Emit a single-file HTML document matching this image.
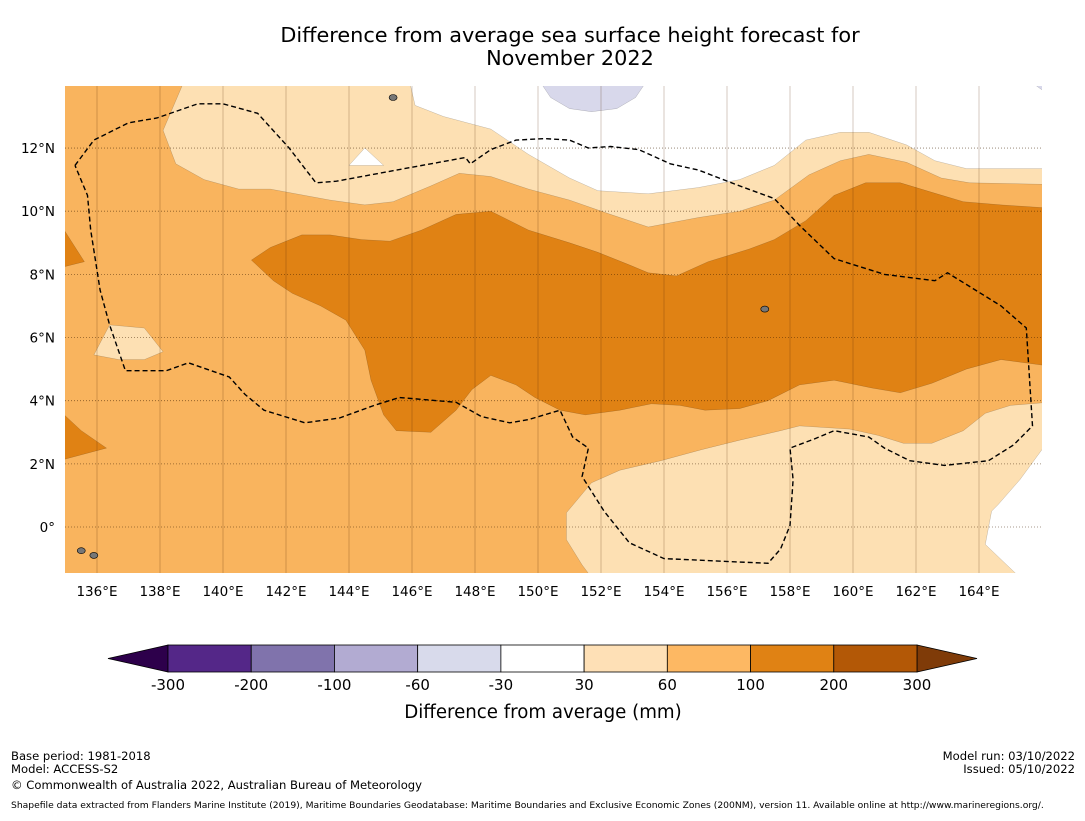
<!DOCTYPE html>
<html><head><meta charset="utf-8"><style>
body{margin:0;background:#fff;font-family:"Liberation Sans","DejaVu Sans",sans-serif;}
svg text{font-family:"DejaVu Sans","Liberation Sans",sans-serif;}
</style></head><body>
<svg id="chart" width="1085" height="816" viewBox="0 0 1085 816" xmlns="http://www.w3.org/2000/svg">
<text x="570" y="42" font-size="20.8" text-anchor="middle">Difference from average sea surface height forecast for</text>
<text x="570" y="65" font-size="20.8" text-anchor="middle">November 2022</text>
<defs><clipPath id="mapclip"><rect x="65" y="86" width="977" height="487"/></clipPath></defs>
<g id="map" clip-path="url(#mapclip)"></g>
<g id="axes"></g>
<g id="cbar"></g>
<text x="543" y="718" font-size="18.2" text-anchor="middle">Difference from average (mm)</text>
<text x="11" y="760" font-size="11.6">Base period: 1981-2018</text>
<text x="11" y="773" font-size="11.6">Model: ACCESS-S2</text>
<text x="11" y="789" font-size="11.6">© Commonwealth of Australia 2022, Australian Bureau of Meteorology</text>
<text x="1075" y="760" font-size="11.6" text-anchor="end">Model run: 03/10/2022</text>
<text x="1075" y="773" font-size="11.6" text-anchor="end">Issued: 05/10/2022</text>
<text x="11" y="808" font-size="9.2">Shapefile data extracted from Flanders Marine Institute (2019), Maritime Boundaries Geodatabase: Maritime Boundaries and Exclusive Economic Zones (200NM), version 11. Available online at http://www.marineregions.org/.</text>
</svg>
<script>
const lonTicks=[136,138,140,142,144,146,148,150,152,154,156,158,160,162,164];
const latTicks=[12,10,8,6,4,2,0];
const latLabels=["12°N","10°N","8°N","6°N","4°N","2°N","0°"];
const cbarLabels=["-300","-200","-100","-60","-30","30","60","100","200","300"];
const cbarColors=["#542788","#8073ac","#b2abd2","#d8daeb","#ffffff","#fee0b6","#fdb863","#e08214","#b35806"];
const lightTop=[[138.8,14.2],[138.1,12.56],[138.5,11.5],[139.4,11.0],[140.5,10.7],[141.5,10.7],[143.4,10.35],[144.5,10.2],[145.4,10.3],[146.6,10.8],[147.5,11.2],[148.5,11.1],[149.7,10.7],[151.0,10.35],[152.3,9.9],[153.5,9.5],[155.1,9.8],[156.4,10.0],[157.5,10.35],[158.6,11.15],[159.6,11.6],[160.5,11.8],[161.7,11.55],[162.8,11.05],[163.7,10.9],[166.2,10.85],[166.2,14.2]];
const whiteTop=[[145.9,14.2],[146.1,13.35],[147.0,13.0],[148.5,12.6],[149.7,11.8],[151,11.05],[151.9,10.65],[153.5,10.55],[155.1,10.75],[156.4,11],[157.5,11.45],[158.5,12.25],[159.6,12.5],[160.5,12.5],[161.7,12.1],[162.6,11.6],[163.6,11.35],[166.2,11.35],[166.2,14.2]];
const whiteTri=[[144.0,11.45],[145.1,11.45],[144.5,12.0]];
const lavender=[[150.0,14.2],[150.4,13.6],[151.0,13.25],[151.7,13.15],[152.5,13.25],[153.1,13.6],[153.5,14.2]];
const lavender2=[[165.5,14.2],[166.2,13.7],[166.2,14.2]];
const darkMain=[[140.9,8.45],[141.5,8.85],[142.5,9.25],[143.4,9.25],[144.4,9.1],[145.3,9.05],[146.3,9.4],[147.4,9.9],[148.5,10.0],[149.7,9.4],[151,9.0],[151.9,8.7],[152.9,8.3],[153.5,8.05],[154.4,7.95],[155.4,8.4],[156.7,8.8],[157.5,9.1],[158.5,9.7],[159.4,10.5],[160.4,10.9],[161.5,10.9],[162.5,10.6],[163.5,10.3],[164.7,10.2],[166.2,10.1],[166.2,5.1],[164.7,5.3],[163.6,5.0],[162.5,4.55],[161.5,4.25],[160.6,4.4],[159.4,4.65],[158.3,4.5],[157.3,4.0],[156.4,3.75],[155.3,3.7],[154.5,3.85],[153.6,3.9],[152.6,3.7],[151.5,3.55],[150.7,3.7],[149.9,4.1],[149.3,4.5],[148.5,4.8],[147.9,4.35],[147.4,3.7],[146.6,3.0],[145.5,3.05],[145.1,3.55],[144.7,4.65],[144.5,5.6],[143.9,6.55],[143.1,7.0],[142.2,7.4],[141.6,7.8]];
const darkLeft1=[[134.8,9.65],[135.6,8.4],[134.8,8.2]];
const darkLeft2=[[134.8,3.7],[135.5,3.05],[136.3,2.5],[134.8,2.1]];
const lightLeft=[[135.9,5.45],[136.4,6.4],[137.5,6.3],[138.1,5.55],[137.5,5.3],[136.7,5.3]];
const lightBottom=[[150.9,0.45],[151.7,1.4],[152.6,1.8],[153.9,2.1],[155.2,2.45],[156.4,2.75],[157.7,3.05],[158.3,3.2],[159.9,3.1],[160.8,2.9],[161.6,2.65],[162.5,2.65],[163.5,3.05],[164.2,3.6],[165,3.85],[166.2,3.95],[166.2,-1.6],[151.7,-1.6],[151.4,-1.2],[150.9,-0.4]];
const whiteBottom=[[166.2,2.6],[166,2.45],[165.3,1.5],[164.6,0.7],[164.4,0.5],[164.2,-0.55],[165.3,-1.6],[166.2,-1.6]];
const eez=[[135.3,11.45],[135.9,12.25],[137.0,12.8],[137.9,12.95],[139.2,13.4],[140,13.4],[141.1,13.1],[142.1,12.0],[142.95,10.9],[143.6,10.95],[145.5,11.3],[147.7,11.7],[147.85,11.5],[148.5,11.95],[149.3,12.25],[150.2,12.3],[151,12.25],[151.6,12.0],[152.3,12.05],[153.2,11.95],[154.2,11.5],[155.1,11.3],[156.4,10.8],[157.5,10.4],[158.3,9.55],[159.4,8.5],[161.0,8.0],[162.6,7.8],[163.0,8.05],[164.7,7.0],[165.5,6.3],[165.7,3.2],[165.1,2.6],[164.3,2.1],[162.9,1.95],[161.8,2.1],[161.0,2.5],[160.5,2.85],[159.4,3.05],[158.8,2.8],[158.0,2.5],[158.1,1.5],[158,0.05],[157.7,-0.7],[157.3,-1.15],[154.0,-1.0],[152.9,-0.5],[152.1,0.5],[151.4,1.6],[151.6,2.5],[151.1,2.85],[150.7,3.7],[149.7,3.4],[149.1,3.3],[148.2,3.5],[147.4,3.95],[145.6,4.1],[144.8,3.85],[143.7,3.45],[142.6,3.3],[141.3,3.7],[140.7,4.2],[140.2,4.75],[138.9,5.2],[138.2,4.95],[136.9,4.95],[136.4,6.4],[136.1,7.5],[135.8,9.4],[135.7,10.5],[135.3,11.45]];
const islands=[[135.5,-0.75],[135.9,-0.9],[145.4,13.6],[157.2,6.9]];

const NS='http://www.w3.org/2000/svg';
const X=lon=>65.5+(lon-135)*31.5;
const Y=lat=>527-lat*31.58;
function mk(tag,attrs,parent){const e=document.createElementNS(NS,tag);for(const k in attrs)e.setAttribute(k,attrs[k]);parent.appendChild(e);return e;}
const map=document.getElementById('map'),axes=document.getElementById('axes'),cb=document.getElementById('cbar');
const pts=a=>a.map(p=>X(p[0]).toFixed(1)+','+Y(p[1]).toFixed(1)).join(' ');
let bg=mk('rect',{x:65,y:86,width:977,height:487,fill:'#f9b45e'},map);


const layers=[[lightTop,'#fde0b3','contour-30-60-north'],[whiteTop,'#ffffff','contour-white-north'],[whiteTri,'#ffffff','contour-white-small'],[lavender,'#d8d8eb','contour-lavender-north'],[lavender2,'#d8d8eb','contour-lavender-ne'],[darkMain,'#e08214','contour-100-200-main'],[darkLeft1,'#e08214','contour-100-200-west1'],[darkLeft2,'#e08214','contour-100-200-west2'],[lightLeft,'#fde0b3','contour-30-60-west'],[lightBottom,'#fde0b3','contour-30-60-south'],[whiteBottom,'#ffffff','contour-white-south']];
layers.forEach(l=>{const p=mk('polygon',{points:pts(l[0]),fill:l[1],stroke:'rgba(0,0,0,0.3)','stroke-width':0.4},map);

});
lonTicks.forEach(t=>{const l=mk('line',{x1:X(t),x2:X(t),y1:86,y2:573,stroke:'rgba(80,40,0,0.35)','stroke-width':0.7},map);


const tx=mk('text',{x:X(t),y:596,'font-size':13.5,'text-anchor':'middle'},axes);tx.textContent=t+'°E';

});
latTicks.forEach((t,i)=>{const l=mk('line',{x1:65,x2:1042,y1:Y(t),y2:Y(t),stroke:'rgba(60,30,0,0.6)','stroke-width':0.8,'stroke-dasharray':'1,2'},map);


const tx=mk('text',{x:55,y:Y(t)+5,'font-size':13.5,'text-anchor':'end'},axes);tx.textContent=latLabels[i];

});
const e=mk('polyline',{points:pts(eez),fill:'none',stroke:'#000','stroke-width':1.4,'stroke-dasharray':'5,3'},map);


islands.forEach(p=>{const c=mk('ellipse',{cx:X(p[0]),cy:Y(p[1]),rx:4,ry:3,fill:'#777',stroke:'#000','stroke-width':0.6},map);

});
const cx0=168,cx1=917,cw=(cx1-cx0)/cbarColors.length,cy=645,ch=27;
let tl=mk('polygon',{points:`${cx0},${cy} ${cx0},${cy+ch} 108,${cy+ch/2}`,fill:'#2d004b',stroke:'#000','stroke-width':0.8},cb);


let tr=mk('polygon',{points:`${cx1},${cy} ${cx1},${cy+ch} 977,${cy+ch/2}`,fill:'#7f3b08',stroke:'#000','stroke-width':0.8},cb);


cbarColors.forEach((c,i)=>{const r=mk('rect',{x:cx0+i*cw,y:cy,width:cw,height:ch,fill:c,stroke:'#000','stroke-width':0.8},cb);

});
cbarLabels.forEach((s,i)=>{const t=mk('text',{x:cx0+i*cw,y:690,'font-size':15,'text-anchor':'middle'},cb);t.textContent=s;

});
</script>
</body></html>
